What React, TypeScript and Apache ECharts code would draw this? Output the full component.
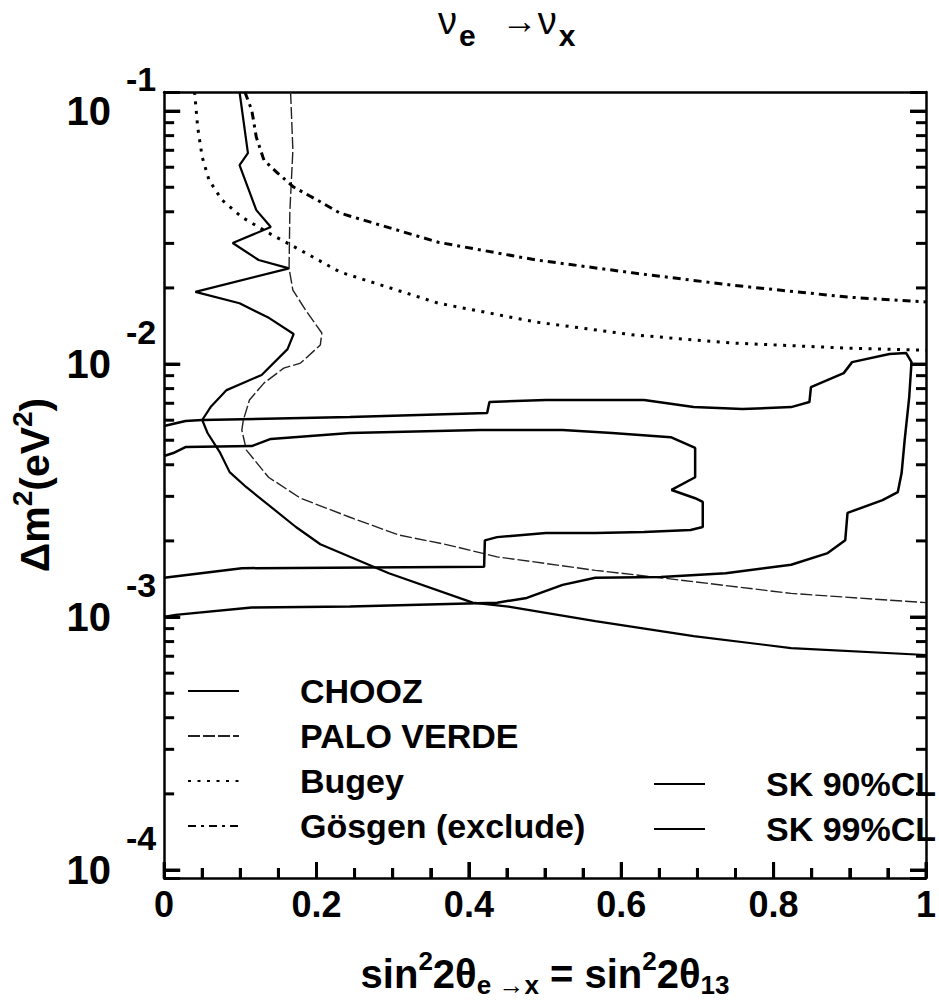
import React, { useEffect, useRef } from 'react';
import * as echarts from 'echarts';

const FONT = '"Liberation Sans", Arial, Helvetica, sans-serif';

// ---- data ----
const choozX = [0.099, 0.110, 0.099, 0.121, 0.140, 0.090, 0.124, 0.164, 0.041, 0.099, 0.138, 0.170, 0.162, 0.128, 0.082, 0.061, 0.050, 0.057, 0.073, 0.086, 0.108, 0.173, 0.205, 0.295, 0.405, 0.452, 0.566, 0.695, 0.823, 1.0];
const choozY = [0.119, 0.0682, 0.0612, 0.0406, 0.0348, 0.0301, 0.0258, 0.0239, 0.0193, 0.0174, 0.0152, 0.01315, 0.01146, 0.00906, 0.00789, 0.00676, 0.00601, 0.00534, 0.00449, 0.00374, 0.00326, 0.00227, 0.00194, 0.00149, 0.00114, 0.00110, 0.000964, 0.000841, 0.000754, 0.000708];

const paloX = [0.166, 0.169, 0.165, 0.164, 0.169, 0.186, 0.207, 0.205, 0.179, 0.157, 0.131, 0.112, 0.104, 0.102, 0.108, 0.137, 0.179, 0.244, 0.308, 0.372, 0.437, 0.566, 0.652, 0.823, 1.0];
const paloY = [0.119, 0.0701, 0.0399, 0.0239, 0.0196, 0.0163, 0.01327, 0.01189, 0.01009, 0.00964, 0.00841, 0.00721, 0.00601, 0.00548, 0.00457, 0.00357, 0.00295, 0.00248, 0.00211, 0.00193, 0.00173, 0.00153, 0.00143, 0.00124, 0.00114];

const bugeyX = [0.040, 0.044, 0.050, 0.059, 0.076, 0.102, 0.137, 0.179, 0.231, 0.308, 0.360, 0.488, 0.617, 0.746, 0.897, 1.0];
const bugeyY = [0.119, 0.0865, 0.0658, 0.0533, 0.0445, 0.0381, 0.0330, 0.0282, 0.0231, 0.0195, 0.0174, 0.01466, 0.01303, 0.01211, 0.01156, 0.01135];

const gosgenX = [0.106, 0.115, 0.121, 0.131, 0.149, 0.170, 0.201, 0.231, 0.360, 0.488, 0.617, 0.746, 0.897, 1.0];
const gosgenY = [0.119, 0.1009, 0.0789, 0.0640, 0.0569, 0.0501, 0.0445, 0.0395, 0.0303, 0.0258, 0.0229, 0.0205, 0.0184, 0.0176];

const sk90X = [0, 0.012, 0.028, 0.115, 0.140, 0.244, 0.415, 0.523, 0.588, 0.665, 0.697, 0.697, 0.666, 0.697, 0.707, 0.707, 0.691, 0.630, 0.566, 0.501, 0.437, 0.421, 0.420, 0.102, 0];
const sk90Y = [0.00433, 0.00445, 0.00470, 0.00474, 0.00506, 0.00534, 0.00549, 0.00549, 0.00534, 0.00514, 0.00466, 0.00357, 0.00318, 0.00295, 0.00285, 0.00227, 0.00221, 0.00217, 0.00215, 0.00215, 0.00207, 0.00201, 0.00158, 0.00156, 0.00143];

const sk99X = [0, 0.028, 0.050, 0.244, 0.424, 0.427, 0.501, 0.630, 0.695, 0.759, 0.823, 0.847, 0.849, 0.892, 0.903, 0.952, 0.974, 0.981, 0.978, 0.972, 0.968, 0.963, 0.943, 0.897, 0.894, 0.871, 0.823, 0.737, 0.652, 0.566, 0.523, 0.476, 0.437, 0.244, 0.115, 0.015, 0];
const sk99Y = [0.00569, 0.00596, 0.00601, 0.00618, 0.00640, 0.00708, 0.00721, 0.00721, 0.00676, 0.00664, 0.00676, 0.00708, 0.00811, 0.00921, 0.01018, 0.01096, 0.01105, 0.01018, 0.00741, 0.00501, 0.00371, 0.00312, 0.00290, 0.00258, 0.00201, 0.00179, 0.00161, 0.00149, 0.00144, 0.00143, 0.00134, 0.00119, 0.00114, 0.00110, 0.00109, 0.00102, 0.001];

const seriesNames = ['CHOOZ', 'PALO VERDE', 'Bugey', 'Gösgen (exclude)', 'SK 90%CL', 'SK 99%CL'];

// tick positions of the frame
const yMajorTicks = [0.0001, 0.001, 0.01, 0.1];
const yMinorTicks = [
  0.0002, 0.0003, 0.0004, 0.0005, 0.0006, 0.0007, 0.0008, 0.0009,
  0.002, 0.003, 0.004, 0.005, 0.006, 0.007, 0.008, 0.009,
  0.02, 0.03, 0.04, 0.05, 0.06, 0.07, 0.08, 0.09,
];
const xMajorTicks = [0, 0.2, 0.4, 0.6, 0.8, 1.0];
const xMinorTicks = [0.05, 0.1, 0.15, 0.25, 0.3, 0.35, 0.45, 0.5, 0.55, 0.65, 0.7, 0.75, 0.85, 0.9, 0.95];
const Y_MIN = 0.000093;
const Y_MAX = 0.119;

const pairs = (xs: number[], ys: number[]) => xs.map((x, i) => [x, ys[i]]);

const GRID = { left: 161, right: 2, top: 92, bottom: 130 };
const CHART_W = 939;
const CHART_H = 1008;
const MAJOR_LEN = 16;
const MINOR_LEN = 10;
const TICK_W = 3;

export default function App() {
  const ref = useRef<HTMLDivElement>(null);

  useEffect(() => {
    if (!ref.current) return;
    const chart = echarts.init(ref.current, null, { renderer: 'svg' });

    const lineSeries = (name: string, data: number[][], lineStyle: any) => ({
      name,
      type: 'line',
      data,
      symbol: 'none',
      showSymbol: false,
      silent: true,
      z: 3,
      lineStyle: { color: '#000', ...lineStyle },
      itemStyle: { color: '#000' },
    });

    const legendBase = {
      orient: 'vertical',
      padding: 0,
      itemWidth: 51,
      itemHeight: 14,
      itemGap: 11,
      selectedMode: false,
      formatter: (n: string) => `{t|${n}}`,
      textStyle: {
        color: '#000',
        fontSize: 34,
        fontWeight: 'bold',
        fontFamily: FONT,
        rich: {
          t: { padding: [0, 0, 0, 56], fontSize: 34, fontWeight: 'bold', fontFamily: FONT, color: '#000', lineHeight: 36 },
        },
      },
      itemStyle: { opacity: 0 },
    };

    const frameLine = { show: true, onZero: false, lineStyle: { color: '#000', width: 2.5 } };

    const option: any = {
      animation: false,
      backgroundColor: '#fff',
      title: {
        text: '{nu|ν}{sub|e}{arr|→}{nu|ν}{sub|x}',
        left: 438,
        top: 2,
        padding: 0,
        textStyle: {
          fontFamily: FONT,
          fontWeight: 'normal',
          color: '#000',
          rich: {
            nu: { fontSize: 38, fontWeight: 'normal', fontFamily: FONT, color: '#000', padding: [0, 0, 28, 0] },
            sub: { fontSize: 30, fontWeight: 'bold', fontFamily: FONT, color: '#000', padding: [0, 0, 0, 2] },
            arr: { fontSize: 36, fontWeight: 'normal', fontFamily: FONT, color: '#000', verticalAlign: 'top', padding: [0, 0, 0, 26] },
          },
        },
      },
      grid: { ...GRID, show: false },
      xAxis: [
        {
          type: 'value',
          position: 'bottom',
          min: 0,
          max: 1,
          interval: 0.2,
          name: 'sin{sup|2}2θ{sub|e →x} = sin{sup|2}2θ{sub|13}',
          nameLocation: 'middle',
          nameGap: 70,
          nameTextStyle: {
            fontSize: 40,
            fontWeight: 'bold',
            fontFamily: FONT,
            color: '#000',
            rich: {
              sup: { fontSize: 26, fontWeight: 'bold', fontFamily: FONT, color: '#000', padding: [0, 0, 26, 0] },
              sub: { fontSize: 26, fontWeight: 'bold', fontFamily: FONT, color: '#000', padding: [22, 0, 0, 0] },
            },
          },
          axisLine: frameLine,
          axisTick: { show: true, inside: true, length: MAJOR_LEN, lineStyle: { color: '#000', width: TICK_W } },
          minorTick: { show: true, splitNumber: 4, length: MINOR_LEN, lineStyle: { color: '#000', width: TICK_W } },
          splitLine: { show: false },
          minorSplitLine: { show: false },
          axisLabel: {
            margin: 8,
            fontSize: 36,
            fontWeight: 'bold',
            fontFamily: FONT,
            color: '#000',
          },
        },
        {
          type: 'value',
          position: 'top',
          min: 0,
          max: 1,
          interval: 0.2,
          axisLine: frameLine,
          axisTick: { show: false },
          minorTick: { show: false },
          splitLine: { show: false },
          axisLabel: { show: false },
        },
      ],
      yAxis: [
        {
          type: 'log',
          logBase: 10,
          position: 'left',
          min: Y_MIN,
          max: Y_MAX,
          name: 'Δm{sup|2}(eV{sup|2})',
          nameLocation: 'middle',
          nameRotate: 90,
          nameGap: 78,
          nameTextStyle: {
            fontSize: 41,
            fontWeight: 'bold',
            fontFamily: FONT,
            color: '#000',
            rich: {
              sup: { fontSize: 28, fontWeight: 'bold', fontFamily: FONT, color: '#000', padding: [0, 0, 26, 0] },
            },
          },
          axisLine: frameLine,
          axisTick: { show: true, inside: true, length: MAJOR_LEN, lineStyle: { color: '#000', width: TICK_W } },
          minorTick: { show: false },
          splitLine: { show: false },
          axisLabel: {
            margin: 8,
            formatter: (v: number) => {
              const l = Math.log10(v);
              const e = Math.round(l);
              if (Math.abs(l - e) > 0.01) return '';
              return `{b|10}{s|${e}}`;
            },
            rich: {
              b: { fontSize: 40, fontWeight: 'bold', fontFamily: FONT, color: '#000' },
              s: { fontSize: 34, fontWeight: 'bold', fontFamily: FONT, color: '#000', padding: [0, 0, 64, 15] },
            },
          },
        },
        {
          type: 'log',
          logBase: 10,
          position: 'right',
          min: Y_MIN,
          max: Y_MAX,
          axisLine: frameLine,
          axisTick: { show: true, inside: true, length: MAJOR_LEN, lineStyle: { color: '#000', width: TICK_W } },
          minorTick: { show: false },
          splitLine: { show: false },
          axisLabel: { show: false },
        },
      ],
      legend: [
        { ...legendBase, data: seriesNames.slice(0, 4), left: 187, top: 674 },
        { ...legendBase, data: seriesNames.slice(4), left: 653, top: 767 },
      ],
      series: [
        lineSeries(seriesNames[0], pairs(choozX, choozY), { width: 2.2, type: 'solid' }),
        lineSeries(seriesNames[1], pairs(paloX, paloY), { width: 1.4, type: [12, 3], color: '#222' }),
        lineSeries(seriesNames[2], pairs(bugeyX, bugeyY), { width: 3, type: [3, 6.5] }),
        lineSeries(seriesNames[3], pairs(gosgenX, gosgenY), { width: 3, type: [8, 5, 3, 5] }),
        lineSeries(seriesNames[4], pairs(sk90X, sk90Y), { width: 2.5, type: 'solid' }),
        lineSeries(seriesNames[5], pairs(sk99X, sk99Y), { width: 2.5, type: 'solid' }),
      ],
    };

    chart.setOption(option);

    // frame ticks: positions come from the axes' own scales via convertToPixel
    const finder = { xAxisIndex: 0, yAxisIndex: 0 };
    const elements: any[] = [];
    const addY = (v: number, len: number) => {
      const l = chart.convertToPixel(finder, [0, v]) as number[];
      const r = chart.convertToPixel(finder, [1, v]) as number[];
      if (!l || !r || !isFinite(l[1])) return;
      elements.push({ type: 'rect', shape: { x: l[0], y: l[1] - TICK_W / 2, width: len, height: TICK_W }, style: { fill: '#000' }, z: 100 });
      elements.push({ type: 'rect', shape: { x: r[0] - len, y: r[1] - TICK_W / 2, width: len, height: TICK_W }, style: { fill: '#000' }, z: 100 });
    };
    const addX = (v: number, len: number) => {
      const b = chart.convertToPixel(finder, [v, Y_MIN]) as number[];
      if (!b || !isFinite(b[0])) return;
      elements.push({ type: 'rect', shape: { x: b[0] - TICK_W / 2, y: b[1] - len, width: TICK_W, height: len }, style: { fill: '#000' }, z: 100 });
    };
    yMajorTicks.forEach((v) => addY(v, MAJOR_LEN));
    yMinorTicks.forEach((v) => addY(v, MINOR_LEN));
    xMajorTicks.forEach((v) => addX(v, MAJOR_LEN));
    xMinorTicks.forEach((v) => addX(v, MINOR_LEN));
    chart.setOption({ graphic: { elements } });

    return () => chart.dispose();
  }, []);

  return (
    <div
      ref={ref}
      style={{ position: 'fixed', left: 0, top: 0, width: CHART_W, height: CHART_H, background: '#fff' }}
    />
  );
}
